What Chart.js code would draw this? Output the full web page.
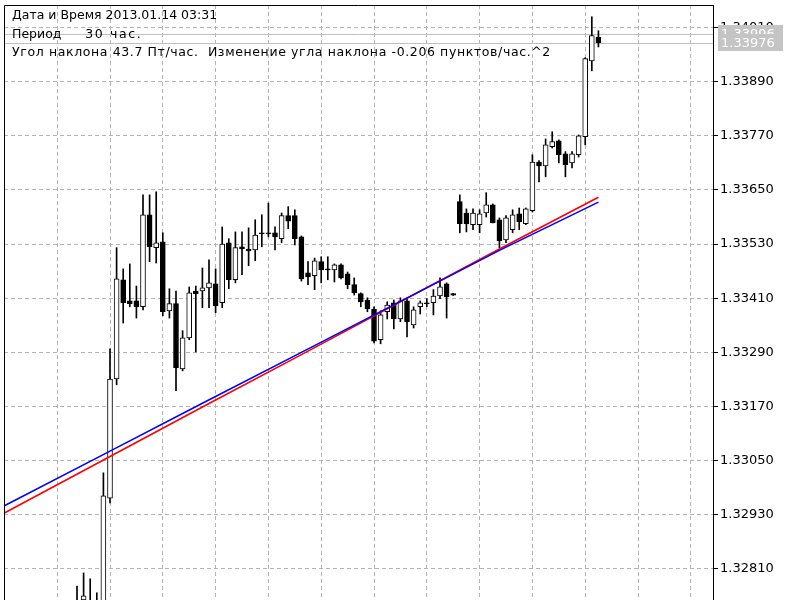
<!DOCTYPE html>
<html>
<head>
<meta charset="utf-8">
<script src="https://cdn.jsdelivr.net/npm/chart.js@4/dist/chart.umd.min.js"></script>
<style>
  html, body { margin: 0; padding: 0; background: #fff; }
  #wrap { position: relative; width: 800px; height: 600px; }
  #info {
    position: absolute; left: 12px; top: 6px;
    font: 12.5px "DejaVu Sans", sans-serif; line-height: 18.5px;
    white-space: pre; color: #000;
  }
  #info .wide { letter-spacing: 0.62px; }
  #info .per { letter-spacing: 1.6px; }
</style>
</head>
<body>
<div id="wrap">
  <canvas id="chart" width="800" height="600"></canvas>
  <div id="info"><div>Дата и Время 2013.01.14 03:31</div><div>Период      <span class="per">30 час.</span></div><div class="wide">Угол наклона 43.7 Пт/час.  Изменение угла наклона -0.206 пунктов/час.^2</div></div>
</div>
<script>
// bar index of the first visible candle (bars 0..10 are below the view)
const firstBar = 11;

const opens = [
  1.32719, 1.32741, 1.32730, 1.32728, 1.32653, 1.32967, 1.33231, 1.33451, 1.33404, 1.33404,
  1.33391, 1.33595, 1.33522, 1.33535, 1.33382, 1.33398, 1.33253, 1.33322, 1.33426, 1.33426,
  1.33433, 1.33442, 1.33400, 1.33533, 1.33451, 1.33524, 1.33519, 1.33517, 1.33555, 1.33555,
  1.33555, 1.33542, 1.33593, 1.33593, 1.33546, 1.33466, 1.33460, 1.33491, 1.33475, 1.33473,
  1.33484, 1.33464, 1.33440, 1.33420, 1.33406, 1.33386, 1.33318, 1.33380, 1.33400, 1.33364,
  1.33404, 1.33351, 1.33391, 1.33400, 1.33400, 1.33415, 1.33442, 1.33420, 1.33624, 1.33599,
  1.33573, 1.33573, 1.33599, 1.33617, 1.33584, 1.33539, 1.33562, 1.33597, 1.33575, 1.33604,
  1.33712, 1.33703, 1.33746, 1.33759, 1.33730, 1.33710, 1.33728, 1.33768, 1.33936, 1.33989
];
const highs = [
  1.32772, 1.32801, 1.32788, 1.32757, 1.33023, 1.33298, 1.33522, 1.33475, 1.33486, 1.33437,
  1.33639, 1.33639, 1.33646, 1.33555, 1.33431, 1.33426, 1.33338, 1.33435, 1.33437, 1.33477,
  1.33495, 1.33475, 1.33568, 1.33542, 1.33557, 1.33557, 1.33566, 1.33584, 1.33595, 1.33621,
  1.33568, 1.33599, 1.33613, 1.33606, 1.33548, 1.33491, 1.33499, 1.33502, 1.33502, 1.33486,
  1.33486, 1.33468, 1.33455, 1.33422, 1.33411, 1.33391, 1.33382, 1.33402, 1.33406, 1.33411,
  1.33411, 1.33391, 1.33404, 1.33409, 1.33429, 1.33455, 1.33444, 1.33421, 1.33639, 1.33608,
  1.33608, 1.33606, 1.33644, 1.33619, 1.33588, 1.33593, 1.33606, 1.33610, 1.33610, 1.33728,
  1.33715, 1.33763, 1.33779, 1.33761, 1.33735, 1.33735, 1.33772, 1.33943, 1.34034, 1.34003
];
const lows = [
  1.32708, 1.32728, 1.32715, 1.32715, 1.32642, 1.32956, 1.33218, 1.33355, 1.33391, 1.33366,
  1.33384, 1.33491, 1.33488, 1.33371, 1.33366, 1.33205, 1.33249, 1.33318, 1.33291, 1.33389,
  1.33389, 1.33378, 1.33389, 1.33431, 1.33444, 1.33462, 1.33482, 1.33493, 1.33524, 1.33546,
  1.33517, 1.33533, 1.33564, 1.33528, 1.33448, 1.33440, 1.33429, 1.33444, 1.33451, 1.33446,
  1.33453, 1.33431, 1.33417, 1.33391, 1.33380, 1.33311, 1.33309, 1.33364, 1.33342, 1.33358,
  1.33324, 1.33344, 1.33375, 1.33391, 1.33373, 1.33409, 1.33366, 1.33416, 1.33555, 1.33557,
  1.33562, 1.33555, 1.33590, 1.33577, 1.33522, 1.33533, 1.33555, 1.33562, 1.33573, 1.33601,
  1.33668, 1.33679, 1.33743, 1.33710, 1.33679, 1.33699, 1.33723, 1.33750, 1.33914, 1.33967
];
const closes = [
  1.32730, 1.32750, 1.32735, 1.32737, 1.32972, 1.33231, 1.33453, 1.33400, 1.33398, 1.33391,
  1.33595, 1.33524, 1.33533, 1.33380, 1.33398, 1.33256, 1.33322, 1.33422, 1.33420, 1.33433,
  1.33444, 1.33393, 1.33530, 1.33451, 1.33522, 1.33519, 1.33515, 1.33550, 1.33553, 1.33553,
  1.33546, 1.33593, 1.33581, 1.33542, 1.33453, 1.33457, 1.33493, 1.33473, 1.33473, 1.33484,
  1.33455, 1.33440, 1.33422, 1.33402, 1.33386, 1.33315, 1.33373, 1.33395, 1.33364, 1.33404,
  1.33358, 1.33384, 1.33400, 1.33398, 1.33415, 1.33435, 1.33413, 1.33417, 1.33575, 1.33575,
  1.33599, 1.33597, 1.33617, 1.33577, 1.33537, 1.33588, 1.33595, 1.33579, 1.33608, 1.33712,
  1.33703, 1.33750, 1.33757, 1.33728, 1.33706, 1.33730, 1.33770, 1.33941, 1.33992, 1.33976
];

// slope lines, read at a few bars
const lineBars = [0, 16, 30, 45, 60, 75, 90];
const blueLine = [1.32950, 1.33071, 1.33177, 1.33290, 1.33403, 1.33516, 1.33623];
const redLine  = [1.32934, 1.33059, 1.33169, 1.33285, 1.33402, 1.33519, 1.33634];

const priceTicks = [1.32810, 1.32930, 1.33050, 1.33170, 1.33290, 1.33410,
                    1.33530, 1.33650, 1.33770, 1.33890, 1.34010];
const gridBars = [8, 16, 24, 32, 40, 48, 56, 64, 72, 80, 88, 96, 104];
const askPrice = 1.33996;
const bidPrice = 1.33976;

const wickData = lows.map((l, k) => ({ x: firstBar + k, y: [l, highs[k]] }));
const bodyData = opens.map((o, k) => ({ x: firstBar + k, y: [o, closes[k]] }));
const bodyColors = opens.map((o, k) => closes[k] > o ? '#ffffff' : '#000000');

const mtPlugin = {
  id: 'mt',
  beforeDatasetsDraw(chart) {
    const { ctx, chartArea: a, scales: { y } } = chart;
    ctx.save();
    ctx.strokeStyle = '#c0c0c0';
    ctx.lineWidth = 1;
    [askPrice, bidPrice].forEach(p => {
      const py = Math.round(y.getPixelForValue(p)) + 0.5;
      ctx.beginPath();
      ctx.moveTo(a.left, py);
      ctx.lineTo(a.right, py);
      ctx.stroke();
    });
    ctx.restore();
  },
  afterDraw(chart) {
    const { ctx, chartArea: a, scales: { y } } = chart;
    ctx.save();
    // frame: left + top
    ctx.strokeStyle = '#000';
    ctx.lineWidth = 1;
    ctx.beginPath();
    ctx.moveTo(a.left + 0.5, a.bottom);
    ctx.lineTo(a.left + 0.5, a.top + 0.5);
    ctx.lineTo(a.right, a.top + 0.5);
    ctx.stroke();
    // ask / bid labels
    ctx.font = '13px "DejaVu Sans"';
    ctx.textBaseline = 'middle';
    [askPrice, bidPrice].forEach(p => {
      const py = y.getPixelForValue(p);
      ctx.fillStyle = '#c4c4c4';
      ctx.fillRect(a.right + 5, Math.round(py) - 9, 65, 17);
      ctx.fillStyle = '#ffffff';
      ctx.fillText(p.toFixed(5), a.right + 8, py + 0.5);
    });
    ctx.restore();
  }
};

new Chart(document.getElementById('chart'), {
  type: 'bar',
  data: {
    datasets: [
      {
        type: 'line', data: lineBars.map((b, k) => ({ x: b, y: blueLine[k] })),
        borderColor: '#0000ff', borderWidth: 1.6, pointRadius: 0, order: 0
      },
      {
        type: 'line', data: lineBars.map((b, k) => ({ x: b, y: redLine[k] })),
        borderColor: '#ff0000', borderWidth: 1.6, pointRadius: 0, order: 0
      },
      {
        data: bodyData, backgroundColor: bodyColors, borderColor: '#000',
        borderWidth: 1, borderSkipped: false, barThickness: 5, grouped: false, order: 1
      },
      {
        data: wickData, backgroundColor: '#000', borderWidth: 0,
        barThickness: 1, grouped: false, order: 2
      }
    ]
  },
  options: {
    responsive: false,
    animation: false,
    events: [],
    layout: { padding: { left: 4, top: 5, right: 0, bottom: 0 } },
    plugins: { legend: { display: false }, tooltip: { enabled: false } },
    scales: {
      x: {
        type: 'linear', min: -0.06, max: 107.36, offset: false,
        grid: { offset: false, color: '#b4b4b4', drawTicks: false, borderDash: [4, 3] },
        border: { display: false, dash: [4, 3] },
        ticks: { display: false },
        afterBuildTicks: s => { s.ticks = gridBars.map(v => ({ value: v })); },
        afterFit: s => { s.height = 0; s.paddingLeft = 0; s.paddingRight = 0; }
      },
      y: {
        position: 'right', min: 1.32741, max: 1.34060,
        grid: { color: '#b4b4b4', tickColor: '#000', tickLength: 5, tickBorderDash: [], borderDash: [4, 3] },
        border: { display: true, color: '#000', width: 1, dash: [4, 3] },
        ticks: {
          color: '#000', padding: 2,
          font: { family: 'DejaVu Sans', size: 13 },
          callback: v => v.toFixed(5)
        },
        afterBuildTicks: s => { s.ticks = priceTicks.map(v => ({ value: v })); },
        afterFit: s => { s.width = 87; s.paddingTop = 0; s.paddingBottom = 0; }
      }
    }
  },
  plugins: [mtPlugin]
});
</script>
</body>
</html>
